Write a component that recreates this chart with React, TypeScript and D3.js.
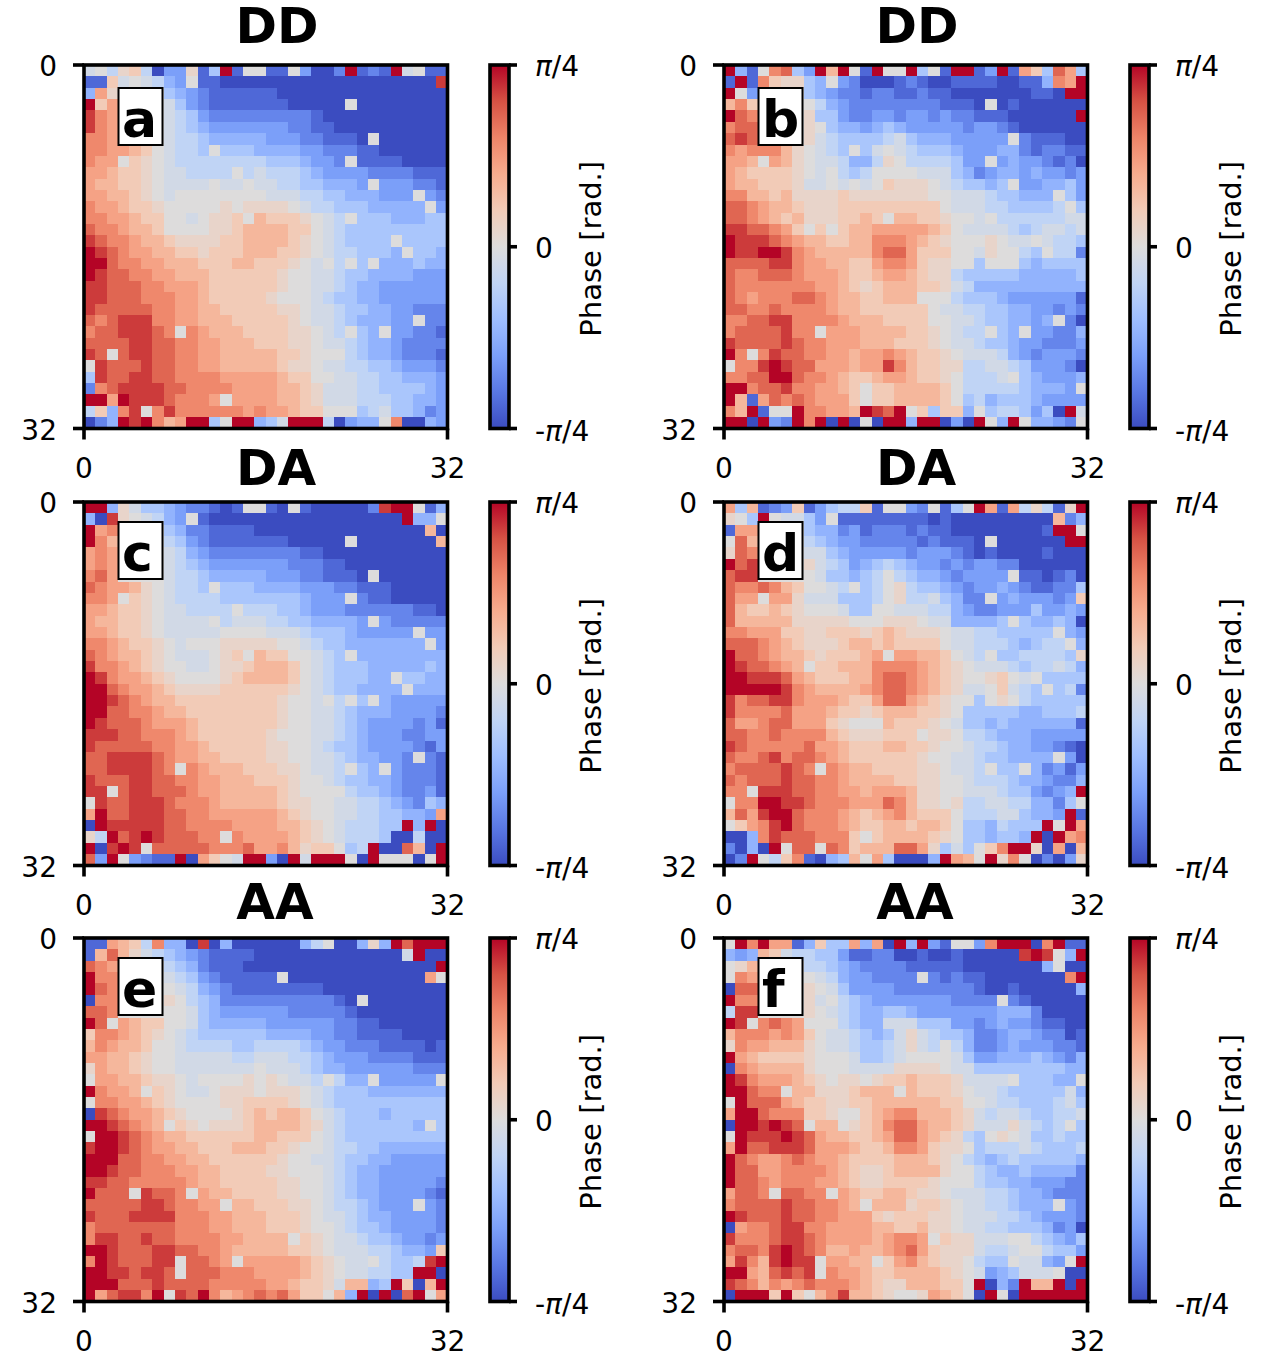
import React from 'react';
import * as d3 from 'd3';

// matplotlib coolwarm anchors
const coolwarm = ['#3b4cc0', '#5977e3', '#7b9ff9', '#9ebeff', '#c0d4f5', '#dddcdc', '#f2cbb7', '#f7ac8e', '#ee8468', '#d65244', '#b40426'];

// phase in units of pi/4, one entry per symbol 0-G used in the grids below
const phaseLevels = [-1, -0.87, -0.73, -0.6, -0.47, -0.33, -0.2, -0.08, 0, 0.1, 0.2, 0.33, 0.45, 0.58, 0.72, 0.86, 1];

const gridA = [
  '7869 A603 3915 G188 1183 002G 121G 7811',
  '11A7 8764 3811 0000 0000 0000 0000 000F',
  '4C98 8885 4321 1111 1000 0000 0000 0000',
  'GAC8 8887 5321 1111 1100 0008 0000 0000',
  'FDC8 8887 6532 2222 2222 1000 0000 0000',
  'FDC8 8887 6543 3333 3322 1100 0000 0000',
  'DDC8 8887 6654 4444 3332 2111 0800 0000',
  'DDCC BA87 6658 5554 4443 3222 1100 0000',
  'DCC8 A987 6666 6666 5554 3328 1111 0000',
  'CCBA A987 7666 6867 6665 4333 3222 2111',
  'CBBA A987 7778 7787 7665 5444 3833 3221',
  'CCBB A987 8888 8888 7776 6554 4433 3832',
  'DCCB AA98 8888 9899 9987 6655 5444 4483',
  'DDCC BAA8 8789 9A8B AAA9 8768 5554 4455',
  'EDDC BBA8 8889 9ABB BBAA 8765 5555 5555',
  'FEDD CBBA 9999 AABB BBA9 8765 5558 5555',
  'GFED CCBB AA9A AABB BAA9 8766 5554 8554',
  'GGED DCCB BBAA ABBA AA98 7868 5844 4544',
  'GFEE DDCC BBBA AAAA A988 7765 5444 4333',
  'FFEE EDDC CCBA AAAA A988 7765 4433 3333',
  'FFEE EDDD CCBA AAAA 9888 7655 4433 3333',
  'FEEE EEDD CCBB AAAA A998 7765 5443 3222',
  'EDEF FFDD CCBB BAAA AA98 7765 4443 3822',
  'DEEF FFED 8DCB BBAA AA99 8768 5483 3221',
  'EEEE FFEE DDCC BBBA AA99 8776 5443 2222',
  'FE8E FFEE DDCC BBBB BAA9 8886 5443 2221',
  '8FEE EFEE DDCC BBBB BA99 8776 6554 3332',
  '5FEE FFEE DDDD CCCC CBAA 8877 6655 4443',
  '2DEF FFFE EDDD DCCC CBBA 9777 6655 5543',
  'GGCG FFFE DDDC 8CCC CBBA 9777 6665 5443',
  '6A4D F8DF DDDD DDCD CCBA A888 5675 5423',
  '024G FGDB CGG5 8GG4 57GG G603 448D 0043',
];

const gridB = [
  'G418 DE53 GBG8 1G88 G581 GG13 G1CA 5EC5',
  '1G1D A995 4832 0001 2100 1111 0011 4DCG',
  'G838 8885 4322 1221 1211 0000 0001 10GG',
  'BDA8 8888 6432 2222 2221 1108 0100 0000',
  'GED8 8889 5532 2332 3323 2211 1000 000G',
  'DEE8 8889 8544 3454 3333 3233 2100 0000',
  'EFE8 8889 7655 5567 5444 3333 3821 1100',
  'DCDD DB98 7658 5787 6555 4333 4421 2211',
  'CCB8 CB98 7764 4698 6666 5338 3433 2120',
  'CBAA AA98 7865 6888 8777 5423 4434 3323',
  'CBBA AA97 7878 78A9 9987 6554 5833 4453',
  'DDBB AB99 99A9 9999 9988 7776 5544 4853',
  'EEDC BBA9 99AA AAAA AAA8 7776 6555 5685',
  'EEDC BAB9 99AA BA8B BAA9 8878 6666 6677',
  'FFEE DCA8 A8AB BCCC CCBA 8777 7656 7767',
  'GFFF EDCB BAAB BDDD CBA9 8889 8778 7665',
  'GFFG GFDC BBBB BDEE CAAA 8879 8865 8662',
  'EEEE FFDC CBBA ACDD CA99 8858 8854 5555',
  'EDDE EEDC CCBA ABCC BA99 6555 5544 4445',
  'EDDD DDDD CCBA 9ABB BAA9 7644 4444 4444',
  'EDCD DDEE DCBB AABB B888 6555 4333 3331',
  'EEDD EDDD DCBB AAAA AA87 7665 5443 3232',
  'DDEE FFDD DDCB BBAA AA88 7765 5443 4820',
  'DEEE EFDD 8CCC BBBB AA98 7668 5483 3224',
  'FEEE EFED DCCC BBBA AA98 7765 5433 2223',
  'GD8D FEED DCCB CCDC BAA9 8777 6432 3332',
  '8DDF GFEE CCCB CCFD BAA9 9667 7653 3320',
  'DDEE GGED DCBA ABCC BAA9 8666 7854 3334',
  'GGDE EFDD CCBA 8AAB BBBA 8666 6654 4438',
  'GB1C EDED CCCA 8AAB BBBA 8564 5554 3333',
  'DBG1 88GD DCCB GFEG 8A5A A485 6653 50G7',
  'GG0G 32GD G0G0 80GG 4GG0 30G8 4G84 4328',
];

const gridC = [
  'GG49 7554 3221 0188 1081 0000 02FG G814',
  '40F9 8764 3810 0000 0000 0000 0000 G448',
  'GCD8 8885 4221 1110 0000 0000 0000 00B0',
  'GDB8 8886 5321 1111 1100 0008 0000 000B',
  'CDC8 8887 6432 2222 2221 1000 0000 0000',
  'CDC8 8887 6543 3333 3322 2110 0000 0000',
  'DEC8 8887 6654 4444 3332 2111 0800 0000',
  'EDCC B987 6658 5554 4443 3322 1110 0000',
  'DDC8 A987 6666 5555 5554 3338 2110 0000',
  'CCBA A987 7666 6866 6554 3332 2222 2110',
  'CBBA A987 7778 6777 6655 4444 3832 2222',
  'CCBA A987 7777 8888 7776 5554 3333 3833',
  'DDCB AA98 7888 9999 9887 6554 4444 4483',
  'EDCB BA98 7778 9A8B AA88 7658 4444 4444',
  'FDDC BA98 8778 99AB BBA8 7655 5444 4454',
  'GFDC CBA9 8888 9ABB BBA8 7655 5448 5544',
  'GGED CCBA 9999 AAAA AA98 7655 4444 8444',
  'GGFE DCBB AAAA AAAA A988 7868 5843 3333',
  'GGEE DDCB BAAA AAAA A988 7765 4443 3332',
  'GFEE EDCC CBAA AAAA A988 7765 4333 3231',
  'FFFE EDDD CBAA AAAA 9888 7765 4333 2233',
  'FEEE EEDD CCBA AAAA 9988 7655 4333 3213',
  'EEFF FFED CCBB AAAA 9988 7765 4433 2821',
  'EEFF FFED 8DCB BBAA A998 7768 5483 2221',
  'FEEE FFEE DDCC BBBA AA98 8765 5443 2221',
  'FF8E FFEE EDCC BBBB BA98 8886 5543 2231',
  '8FEE FFFE DDDC BBBB BA99 8877 6654 3254',
  'CGEE FFFE EDDC CCCC CBA9 8877 6655 443C',
  '0GFF FFFE EDDD DCCC CBBA 9876 6655 G4G0',
  '96GE FGFE EEDD 8DCC CCBA 9876 6650 0600',
  'G0FG F8EE EEED DDEC CDB9 AA85 6G00 EB0G',
  'E3G8 3211 G0CA 87GG 30G7 GGG8 0G88 808G',
];

const gridD = [
  'C5B1 23A1 3566 A188 3281 58GC 1C69 619G',
  '985G 8775 3811 1111 1101 0000 0000 0B24',
  '1CC8 8885 4423 1222 1211 0000 0000 1GG8',
  '8EB8 8886 5433 2222 2121 1108 0000 00GG',
  '9ED8 8887 7543 3333 2333 2101 0000 1000',
  'GEF8 8889 7653 4565 4332 3233 2200 0000',
  'EFF8 8888 7554 5686 5443 2333 3811 0120',
  'EDDE DBA8 8768 5689 6554 3233 4321 1225',
  'ECC8 CC97 7755 5689 6675 4228 3433 323A',
  'EBAA BA98 8875 5887 7766 4322 3335 3343',
  'EBBB BB99 9998 8899 9877 4444 5854 4540',
  'DDCC CAA9 9AAA 9ABA 9998 7766 5555 5843',
  'EEED CBA9 99AB BABA AAA8 7766 6545 6684',
  'GEED CBBA 9AAA BC8C CBBA 8768 5566 6659',
  'GFEE DCB8 AABB BDDD DCBA 9877 7656 6764',
  'GGFF FECB AAAB BDEE DCBA 9889 A878 5555',
  'GGGG GFDC BBBB CDEE DCBA 9778 A765 8562',
  'FDEE FFDC CCBA ACEE CBA9 8858 9865 5555',
  'FDDD DECC CBAA 9ABB BAA9 8555 5544 5556',
  'ECCD EECC CA98 88BA AA98 7554 5444 4441',
  'EEDD EDDD DBA9 99AA A899 8665 4443 3333',
  'FEDD DDDE CCBA AABB AA98 8766 5443 3210',
  'EDDE FDEE DCBA AAAA A988 7765 5444 4830',
  'DEEE EFED 8DCB BAAA A998 7768 5584 2313',
  'EDEE EFEE DDCB BBBA A998 8766 6544 3224',
  'DD8F FFEE DDCC BCCC B998 8777 6553 234G',
  '8DDG GFFE DDDC CCED B998 9667 7664 4258',
  'BECF GGED DDCB ABCD BAAA 8666 7754 43G1',
  '8ACD FGED DDCB AABB ABBA 8554 6555 G8GC',
  '004D FEEE DDDA 8ABB BBA9 8554 554G 0GCD',
  '2040 G8EE 8EDA BBBE EC95 758A DGG9 0C0B',
  '02G8 6AD1 045B 8C50 004G CB8G 9D80 2039',
];

const gridE = [
  '11CB A6D4 40F0 4000 0004 6800 494G EGGG',
  '1BEB 9765 4321 1110 0000 0000 0000 7G00',
  'EDC8 8886 5421 1100 0000 0000 0000 000G',
  'GDD8 8887 6532 1111 1800 0000 0000 00C8',
  'GED8 8888 7643 2111 1111 1000 0000 0000',
  '0DD8 8889 8654 2222 2222 2210 8000 0000',
  'EED8 8888 8754 3333 3322 2221 0000 0000',
  'GE8C BAA8 8754 4444 3333 3322 1100 0000',
  'ADDC BA98 7655 5555 4444 3322 1111 0000',
  'BDCB BA88 7666 6556 6665 4332 2211 1101',
  'CCBB A988 7777 7667 7766 5433 3222 2111',
  '9CBB A988 7777 7778 7776 5443 3333 3222',
  '8CCB BA99 8788 8898 9877 6864 4833 3338',
  'GDCC B8A9 8778 9998 9998 7655 5444 4444',
  '8DDC CBA9 8888 99AA AA98 7655 5555 5555',
  '0FED CCBA 9888 89AB ABBA 8765 5545 5555',
  'GGFE DCB8 A989 99AB BBBA 9765 5555 5485',
  '8GGF EDCB BAAA AAAB BAAA 8765 5555 5555',
  'FGGF EDCC BBAA ABBB AA98 8766 5544 4444',
  'GGGE EDDC CBBA AAAA A988 7765 5443 3333',
  'GGFE EDDD CCBB AAAA 9988 8765 4433 3333',
  'FFEE DDDD DCBB AAAA A998 8765 4433 3332',
  'GEEE 8FEE D8CB BAAA A998 8765 4433 3321',
  'EEEE EFFE DDCC 8BBA AA99 8766 5433 3832',
  'FEEE FFFF DDDC CBBB AAA9 8776 5443 3332',
  'DEEE EEEE DDDC CBBB AAA9 8876 5543 3332',
  'DFFE EFEE DDDD CCBB BB8A 9877 6554 3323',
  'GGFE EEFF EEDD CBBB BBAA 9877 7665 443A',
  'DGFE EEFF 8EED C8CC CCCB A987 7865 56FG',
  'GGFF EFFE 8EEE DDDC CCCB A987 7665 5GG0',
  'GGGE EEFE EEED DDDD CCBA A97B B45G A0BG',
  'GCEF FDG8 FEGD BCDE DECA A8B4 G0G0 EG8C',
];

const gridF = [
  '8GDG CC14 A55C 4C0G 4G31 883D GGG0 DG11',
  '434B A766 5531 1220 0100 1000 00FG F84G',
  '89B8 8886 6543 2222 1111 1000 0000 4800',
  '8DC8 8888 7643 3222 2821 2110 0000 00DG',
  '0EE8 8889 8753 3332 2222 2210 0100 0004',
  'GDD8 8889 7865 4333 3333 2222 8210 0000',
  '6FF8 8889 8765 4455 4333 3333 4442 0000',
  'GF8D EDC8 8865 4477 7555 3323 4332 1100',
  'BDDD CDCA 8776 5457 9765 5422 3443 2201',
  '9DCC BBB9 8776 5567 9768 6422 3433 3221',
  'GCBA AAA9 8887 5567 8888 7533 4445 4324',
  '0DCB BBB9 8887 7779 9998 7755 5555 5544',
  'GFDC CCBA 9899 89AA BAAA 9777 7855 5448',
  'GGED D8BB 999A BBB8 BAAA 9877 6555 5574',
  '8GEE ECBA A99A ABBB BBBA A887 6655 5675',
  'CGGE DDDA A988 ABCD DBBB A976 7765 5667',
  '0GGF GFE8 BB89 ABDE ECBB A977 7976 5685',
  '8GFF FGFE CBBA ABCE ECBA 9658 9875 5655',
  'CGEE FFFE CCCB AABD DCA9 9856 6676 5556',
  'GEDC CDED CCBA AAAB BBA9 8654 5655 5554',
  'GEEC CDDD DCBA 99AB BBB9 8865 4454 4442',
  'GEED CDDD CCBA 99AA AA98 8865 5443 3322',
  'CEED 8EED D8CB AABB A998 7776 6544 3222',
  'DEEE EFEE DDCB 8BBB 9AA9 8776 6544 4832',
  'GFEE EFEE DDCC CA9A AA99 8777 6654 3332',
  '0CDD EFFD DCCC CBBA AB99 8776 6555 4230',
  'FDDD EFFE DCCC CBCD DC8A 9977 7886 5435',
  'DEED FGFE DBBC BBCD ECA9 9976 6788 6553',
  'CFDB FGFF 8CCB B8AC DBA9 9865 5877 438G',
  'GGCB EFEF 8DCC BAAB BBBA 9873 4577 7800',
  'FEDB DCDE DDDC BA99 BBBA A8G0 42GB BG0G',
  '0GGG AGA8 BDFB BA98 89CB A80G 80GG GGGG',
];

const colorScale = d3
  .scaleLinear<string>()
  .domain(d3.range(coolwarm.length).map((i) => -1 + (2 * i) / (coolwarm.length - 1)))
  .range(coolwarm)
  .interpolate(d3.interpolateRgb);

const parseGrid = (rows: string[]) =>
  rows.map((r) =>
    r
      .replace(/ /g, '')
      .split('')
      .map((c) => phaseLevels[parseInt(c, 17)])
  );

const FONT = '"DejaVu Sans", sans-serif';
const LABEL = 28;
const SPINE = 3.6;

interface PanelProps {
  grid: string[];
  title: string;
  letter: string;
  x0: number;
  y0: number;
  boxTop: number;
  titleX: number;
  titleY: number;
  id: string;
}

const Panel: React.FC<PanelProps> = ({ grid, title, letter, x0, y0, boxTop, titleX, titleY, id }) => {
  const size = 363.5;
  const cells = parseGrid(grid);
  const xBand = d3.scaleBand<number>().domain(d3.range(32)).range([0, size]);
  const yBand = d3.scaleBand<number>().domain(d3.range(32)).range([0, size]);
  const cbY = d3.scaleLinear().domain([1, -1]).range([0, size]);
  const cbX = 406;
  const cbW = 19;
  const stops = d3.range(0, 1.001, 0.05);

  return (
    <g transform={`translate(${x0}, ${y0})`} fontFamily={FONT} fill="#000">
      <text x={titleX} y={titleY} textAnchor="middle" fontSize={50} fontWeight="bold">
        {title}
      </text>

      <g shapeRendering="crispEdges">
        {cells.map((row, r) =>
          row.map((v, c) => (
            <rect
              key={`${r}-${c}`}
              x={xBand(c)}
              y={yBand(r)}
              width={xBand.bandwidth() + 0.5}
              height={yBand.bandwidth() + 0.5}
              fill={colorScale(v)}
            />
          ))
        )}
      </g>

      <rect x={0} y={0} width={size} height={size} fill="none" stroke="#000" strokeWidth={SPINE} />
      <line x1={-11} x2={0} y1={0} y2={0} stroke="#000" strokeWidth={SPINE} />
      <line x1={-11} x2={0} y1={size} y2={size} stroke="#000" strokeWidth={SPINE} />
      <line x1={0} x2={0} y1={size} y2={size + 11} stroke="#000" strokeWidth={SPINE} />
      <line x1={size} x2={size} y1={size} y2={size + 11} stroke="#000" strokeWidth={SPINE} />

      <text x={-27} y={11} textAnchor="end" fontSize={LABEL}>0</text>
      <text x={-27} y={size + 11} textAnchor="end" fontSize={LABEL}>32</text>
      <text x={0} y={size + 49} textAnchor="middle" fontSize={LABEL}>0</text>
      <text x={size} y={size + 49} textAnchor="middle" fontSize={LABEL}>32</text>

      <rect x={34.5} y={boxTop} width={44} height={57} fill="#fff" stroke="#000" strokeWidth={2} />
      <text x={38} y={boxTop + 49} fontSize={52} fontWeight="bold">
        {letter}
      </text>

      <defs>
        <linearGradient id={id} x1="0" y1="1" x2="0" y2="0">
          {stops.map((t) => (
            <stop key={t} offset={t} stopColor={colorScale(2 * t - 1)} />
          ))}
        </linearGradient>
      </defs>
      <rect x={cbX} y={0} width={cbW} height={size} fill={`url(#${id})`} stroke="#000" strokeWidth={SPINE} />
      {[1, 0, -1].map((t) => (
        <line key={t} x1={cbX + cbW} x2={cbX + cbW + 8} y1={cbY(t)} y2={cbY(t)} stroke="#000" strokeWidth={SPINE} />
      ))}
      <text x={451} y={11} fontSize={LABEL}>
        <tspan fontStyle="italic">π</tspan>/4
      </text>
      <text x={451} y={size / 2 + 11} fontSize={LABEL}>0</text>
      <text x={451} y={size + 12} fontSize={LABEL}>
        -<tspan fontStyle="italic">π</tspan>/4
      </text>
      <text
        transform={`translate(517, ${size / 2 + 2}) rotate(-90)`}
        textAnchor="middle"
        fontSize={29}
      >
        Phase [rad.]
      </text>
    </g>
  );
};

export default function App() {
  return (
    <svg
      width={1267}
      height={1356}
      viewBox="0 0 1267 1356"
      style={{ position: 'absolute', left: 0, top: 0, background: '#fff' }}
    >
      <Panel id="cb-a" grid={gridA} title="DD" letter="a" x0={84} y0={65} boxTop={23} titleX={193} titleY={-22} />
      <Panel id="cb-b" grid={gridB} title="DD" letter="b" x0={724} y0={65} boxTop={23} titleX={193} titleY={-22} />
      <Panel id="cb-c" grid={gridC} title="DA" letter="c" x0={84} y0={502} boxTop={20} titleX={192} titleY={-17} />
      <Panel id="cb-d" grid={gridD} title="DA" letter="d" x0={724} y0={502} boxTop={20} titleX={192} titleY={-17} />
      <Panel id="cb-e" grid={gridE} title="AA" letter="e" x0={84} y0={938} boxTop={20} titleX={191} titleY={-19} />
      <Panel id="cb-f" grid={gridF} title="AA" letter="f" x0={724} y0={938} boxTop={20} titleX={191} titleY={-19} />
    </svg>
  );
}
